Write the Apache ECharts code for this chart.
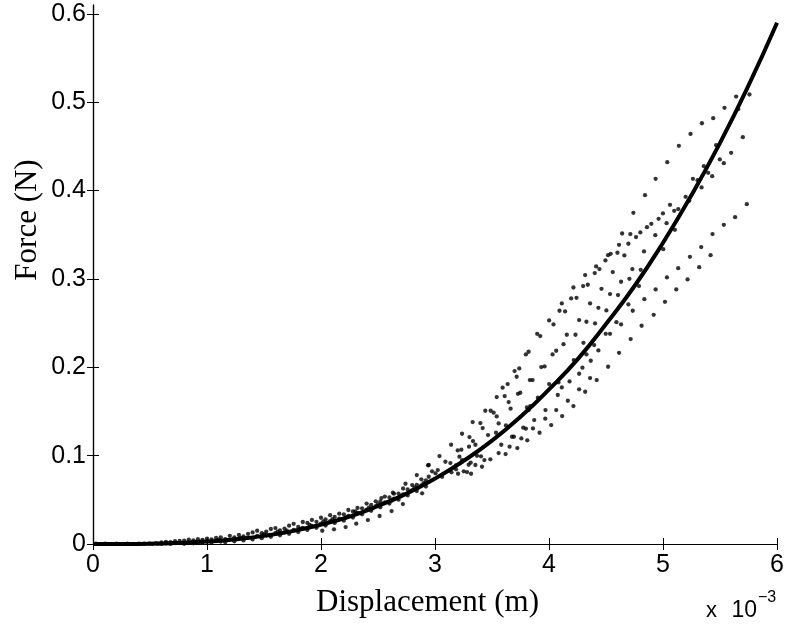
<!DOCTYPE html>
<html><head><meta charset="utf-8">
<script src="https://cdn.jsdelivr.net/npm/echarts@6/dist/echarts.min.js"></script>
<style>html,body{margin:0;padding:0;background:#fff}#c{width:787px;height:628px}</style>
</head><body><div id="c"></div>
<script>
// Displacement values are in units of 1e-3 m (axis shows "x 10^-3")
const xTicks = [0, 1, 2, 3, 4, 5, 6];
const yTicks = [0, 0.1, 0.2, 0.3, 0.4, 0.5, 0.6];

// fitted curve
const fitDisp  = [0,0.25,0.5,0.75,1,1.25,1.5,1.75,2,2.25,2.5,2.75,3,3.25,3.5,3.75,4,4.25,4.5,4.75,5,5.25,5.5,5.75,6];
const fitForce = [0,0.00003,0.0003,0.0012,0.0027,0.0053,0.0092,0.0146,0.0219,0.031,0.043,0.057,0.074,0.094,0.117,0.144,0.175,0.209,0.249,0.292,0.341,0.395,0.454,0.519,0.590];

const ptDisp = [
0.025,0.107,0.206,0.302,0.404,0.497,0.45,0.55,0.52,0.57,
0.60,0.60,0.64,0.64,0.68,0.68,0.72,0.72,0.76,0.76,0.80,0.80,0.84,0.84,0.88,0.88,0.92,0.92,0.96,0.96,
1.00,1.00,1.04,1.04,1.08,1.08,1.12,1.12,1.16,1.16,1.20,1.20,1.24,1.24,1.28,1.28,1.32,1.32,1.36,1.36,
1.40,1.40,1.44,1.44,1.48,1.48,1.52,1.52,1.56,1.56,1.60,1.60,1.64,1.64,1.68,1.68,1.72,1.72,1.76,1.76,
1.80,1.80,1.84,1.84,1.88,1.88,1.92,1.92,1.96,1.96,2.00,2.00,2.04,2.04,2.08,2.08,2.12,2.12,2.16,2.16,
2.20,2.20,2.24,2.24,2.28,2.28,2.32,2.32,2.36,2.36,2.40,2.40,2.44,2.44,2.48,2.48,2.52,2.52,2.56,2.56,
2.60,2.60,2.64,2.64,2.68,2.68,2.72,2.72,2.76,2.76,2.80,2.80,2.84,2.84,2.88,2.88,2.92,2.92,
1.10,1.30,1.50,1.70,1.90,2.10,2.30,2.50,2.70,2.90,1.62,1.82,2.02,2.22,2.42,2.62,2.82,
2.939,2.840,2.741,2.630,2.530,
2.887,2.718,2.619,2.514,2.411,2.309,2.216,2.114,2.011,
4.112,4.141,4.092,4.001,4.039,3.896,3.923,4.156,4.232,4.127,3.821,3.797,4.063,4.031,4.217,3.961,3.932,3.698,3.739,3.716,
3.832,3.856,4.180,3.637,3.593,3.748,3.727,4.001,4.083,4.112,4.077,4.165,3.541,3.611,3.646,3.488,3.514,3.441,3.541,3.663,
3.806,3.835,3.969,4.063,3.902,3.821,3.558,3.622,3.774,3.797,3.870,3.967,4.019,4.115,4.214,3.398,3.418,3.330,3.237,3.302,
3.333,3.465,3.535,3.581,3.675,3.692,3.654,3.757,3.809,3.722,3.859,3.917,3.141,3.199,3.231,3.214,3.298,3.354,3.368,3.403,
3.433,3.485,3.558,3.619,3.039,3.091,3.135,3.184,3.237,3.295,3.313,3.354,3.412,2.945,2.974,3.004,3.024,3.144,3.184,3.202,
3.252,3.281,3.316,3.062,2.945,
4.214,4.194,4.241,
4.842,5.338,5.198,5.230,5.735,4.740,5.061,5.098,5.133,4.999,4.961,4.897,4.859,5.031,5.632,5.533,4.801,4.641,4.713,4.763,
5.104,4.932,5.434,4.696,4.614,5.335,5.002,4.518,4.541,4.600,4.661,4.833,5.417,5.236,4.495,4.413,4.442,4.401,4.317,4.559,
4.731,4.804,5.133,5.317,5.034,4.632,4.705,5.215,4.299,4.340,4.460,4.789,4.935,5.116,4.535,4.605,4.836,4.360,4.433,4.503,
4.696,4.734,5.017,4.264,4.328,4.404,4.591,4.632,4.812,4.918,4.497,4.535,4.716,4.302,4.396,4.433,4.328,4.614,4.366,4.293,
4.518,4.264,4.360,4.418,4.264,4.317,
5.758,5.641,5.659,5.539,5.440,5.341,5.700,5.241,5.466,5.139,5.597,5.498,5.533,5.037,5.358,5.396,5.431,4.935,5.262,5.303
];
const ptForce = [
0.0005,0.0005,0.0005,0.0005,0.0005,0.0006,0.0003,0.0009,0.0002,0.0004,
0.0017,0.0002,0.0007,0.0025,0.0020,0.0001,0.0032,0.0010,0.0012,0.0035,0.0037,0.0003,0.0016,0.0049,0.0041,0.0008,0.0055,0.0021,0.0013,0.0047,
0.0061,0.0027,0.0019,0.0053,0.0068,0.0034,0.0027,0.0075,0.0054,0.0020,0.0092,0.0047,0.0030,0.0075,0.0102,0.0057,0.0040,0.0085,0.0114,0.0069,
0.0052,0.0131,0.0093,0.0150,0.0066,0.0123,0.0141,0.0096,0.0082,0.0170,0.0123,0.0180,0.0098,0.0154,0.0175,0.0130,0.0116,0.0207,0.0160,0.0228,
0.0136,0.0193,0.0249,0.0181,0.0159,0.0238,0.0205,0.0273,0.0183,0.0251,0.0297,0.0230,0.0209,0.0277,0.0258,0.0326,0.0238,0.0306,0.0343,0.0286,
0.0264,0.0336,0.0318,0.0385,0.0300,0.0369,0.0408,0.0352,0.0336,0.0404,0.0389,0.0457,0.0375,0.0442,0.0483,0.0427,0.0415,0.0483,0.0470,0.0537,
0.0457,0.0526,0.0570,0.0514,0.0502,0.0571,0.0560,0.0628,0.0550,0.0618,0.0667,0.0610,0.0600,0.0670,0.0663,0.0732,0.0650,0.0720,
0.0045,0.0070,0.0112,0.0150,0.0215,0.0280,0.0370,0.0452,0.0540,0.0690,0.0140,0.0170,0.0255,0.0300,0.0410,0.0490,0.0640,
0.0890,0.0780,0.0682,0.0580,0.0520,
0.0573,0.0452,0.0373,0.0317,0.0271,0.0230,0.0192,0.0166,0.0150,
0.2723,0.2632,0.2640,0.2530,0.2485,0.2379,0.2353,0.2368,0.2368,0.2262,0.2176,0.2146,0.2187,0.2146,0.2081,0.2010,0.2002,0.1957,0.1987,0.1893,
0.1855,0.1855,0.1840,0.1810,0.1769,0.1712,0.1700,0.1810,0.1829,0.1772,0.1686,0.1621,0.1663,0.1674,0.1606,0.1508,0.1486,0.1508,0.1444,0.1531,
0.1546,0.1561,0.1516,0.1516,0.1655,0.1516,0.1365,0.1342,0.1316,0.1305,0.1403,0.1418,0.1346,0.1448,0.1561,0.1369,0.1312,0.1380,0.1248,0.1210,
0.1165,0.1233,0.1259,0.1123,0.1214,0.1214,0.1101,0.1195,0.1173,0.1086,0.1308,0.1259,0.1123,0.1059,0.1067,0.0988,0.1101,0.1123,0.0999,0.0992,
0.0950,0.0958,0.1029,0.1018,0.0995,0.0931,0.0916,0.0890,0.0950,0.0897,0.0920,0.0894,0.0874,0.0894,0.0822,0.0800,0.0837,0.0811,0.0845,0.0795,
0.0822,0.0814,0.0795,0.0761,0.0761,
0.2903,0.2779,0.2786,
0.3948,0.4035,0.3929,0.3884,0.3846,0.3748,0.3839,0.3771,0.3790,0.3741,0.3680,0.3624,0.3586,0.3631,0.3699,0.3612,0.3526,0.3514,0.3507,0.3473,
0.3556,0.3495,0.3507,0.3398,0.3386,0.3360,0.3337,0.3269,0.3284,0.3296,0.3266,0.3311,0.3269,0.3250,0.3209,0.3141,0.3111,0.3066,0.3043,0.3077,
0.3111,0.3103,0.3122,0.3133,0.3017,0.2968,0.3001,0.2994,0.2919,0.2934,0.2888,0.2919,0.2881,0.2881,0.2828,0.2817,0.2771,0.2723,0.2673,0.2643,
0.2711,0.2640,0.2741,0.2534,0.2515,0.2496,0.2511,0.2485,0.2470,0.2594,0.2379,0.2379,0.2319,0.2277,0.2251,0.2191,0.2146,0.2164,0.2074,0.1995,
0.2006,0.1927,0.1878,0.1855,0.1750,0.1723,
0.5087,0.5064,0.4921,0.4936,0.4819,0.4762,0.4604,0.4641,0.4514,0.4506,0.4427,0.4352,0.4310,0.4321,0.4276,0.4201,0.4163,0.4133,0.4133,0.4118
];

const chart = echarts.init(document.getElementById('c'), null, {renderer: 'canvas'});
const tickFont = 'Liberation Sans, Arial, Helvetica, sans-serif';
const serif = 'Liberation Serif, Times New Roman, serif';
const xFmt = v => String(Math.round(v));
const yFmt = v => (Math.abs(v) < 1e-9 ? '0' : v.toFixed(1));
const axisLine = {show: true, lineStyle: {color: '#000', width: 1.2}};
const tickX = {show: true, inside: true, length: 6, customValues: xTicks, lineStyle: {color: '#000', width: 1}};
const tickY = {show: true, inside: true, length: 6, customValues: yTicks, lineStyle: {color: '#000', width: 1}};

chart.setOption({
  animation: false,
  backgroundColor: '#fff',
  grid: {left: 93, right: 8, top: 5, bottom: 84, containLabel: false},
  xAxis: [
    {type: 'value', min: 0, max: 6, interval: 1, position: 'bottom',
     axisLine, axisTick: tickX, splitLine: {show: false},
     axisLabel: {color: '#000', fontFamily: tickFont, fontSize: 25, margin: 9, customValues: xTicks, formatter: xFmt}},
    {type: 'value', min: 0, max: 6, interval: 1, position: 'top',
     axisLine, axisTick: tickX, splitLine: {show: false}, axisLabel: {show: false}}
  ],
  yAxis: [
    {type: 'value', min: 0, max: 0.61, interval: 0.1, position: 'left',
     axisLine, axisTick: tickY, splitLine: {show: false},
     axisLabel: {color: '#000', fontFamily: tickFont, fontSize: 25, margin: 7, customValues: yTicks, formatter: yFmt}},
    {type: 'value', min: 0, max: 0.61, interval: 0.1, position: 'right',
     axisLine, axisTick: tickY, splitLine: {show: false}, axisLabel: {show: false}}
  ],
  series: [
    {type: 'scatter', xAxisIndex: 0, yAxisIndex: 0, symbol: 'circle', symbolSize: 4.3,
     itemStyle: {color: '#000'}, data: ptDisp.map((d, i) => [d, ptForce[i]]), z: 2},
    {type: 'line', xAxisIndex: 0, yAxisIndex: 0, showSymbol: false, smooth: true,
     lineStyle: {color: '#000', width: 4}, data: fitDisp.map((d, i) => [d, fitForce[i]]), z: 3}
  ],
  graphic: [
    {type: 'text', x: 427.5, y: 603, style: {text: 'Displacement (m)', font: '31px ' + serif, fill: '#000', align: 'center', verticalAlign: 'middle'}},
    {type: 'text', x: 27.5, y: 220, rotation: Math.PI / 2, style: {text: 'Force (N)', font: '31px ' + serif, fill: '#000', align: 'center', verticalAlign: 'middle'}},
    {type: 'text', x: 706, y: 611, style: {text: 'x', font: '22px ' + tickFont, fill: '#000', align: 'left', verticalAlign: 'middle'}},
    {type: 'text', x: 757, y: 611, style: {text: '10', font: '23px ' + tickFont, fill: '#000', align: 'right', verticalAlign: 'middle'}},
    {type: 'text', x: 758, y: 598, style: {text: '\u22123', font: '16px ' + tickFont, fill: '#000', align: 'left', verticalAlign: 'middle'}}
  ]
});
</script></body></html>
